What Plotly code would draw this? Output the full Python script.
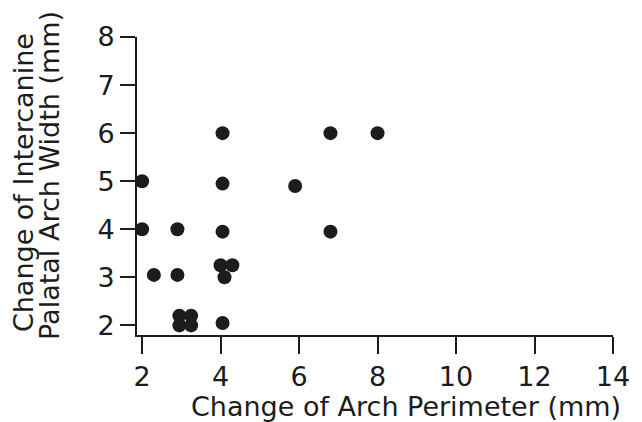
import plotly.graph_objects as go

# Data
arch_perimeter = [2.0, 2.0, 2.3, 2.9, 2.9, 2.95, 3.25, 2.95, 3.25, 4.05,
                  4.05, 4.05, 4.0, 4.3, 4.1, 4.05, 5.9, 6.8, 6.8, 8.0]
intercanine = [5.0, 4.0, 3.05, 4.0, 3.05, 2.2, 2.2, 2.0, 2.0, 2.05,
               6.0, 4.95, 3.25, 3.25, 3.0, 3.95, 4.9, 6.0, 3.95, 6.0]
x_ticks = [2, 4, 6, 8, 10, 12, 14]
y_ticks = [2, 3, 4, 5, 6, 7, 8]

FONT = "DejaVu Sans"
INK = "#1c1c1c"

fig = go.Figure(go.Scatter(
    x=arch_perimeter, y=intercanine, mode="markers",
    marker=dict(size=14, color=INK, line=dict(width=0)),
    hoverinfo="x+y",
))

fig.update_layout(
    width=642, height=422,
    margin=dict(l=137, r=29, t=37, b=87),
    paper_bgcolor="white", plot_bgcolor="white",
    showlegend=False,
    font=dict(family=FONT, color=INK),
    xaxis=dict(range=[1.87, 14], tickvals=x_ticks, ticktext=[str(v) for v in x_ticks],
               showgrid=False, zeroline=False, showline=True, linecolor=INK, linewidth=2,
               ticks="outside", ticklen=17, tickwidth=2, tickcolor=INK,
               tickfont=dict(size=27, family=FONT, color=INK)),
    yaxis=dict(range=[1.8, 8], tickvals=y_ticks, ticktext=[str(v) for v in y_ticks],
               showgrid=False, zeroline=False, showline=True, linecolor=INK, linewidth=2,
               ticks="outside", ticklen=15, tickwidth=2, tickcolor=INK,
               tickfont=dict(size=27, family=FONT, color=INK)),
    annotations=[
        dict(text="Change of Arch Perimeter (mm)", xref="paper", yref="paper",
             x=0.565, y=-0.2416, xanchor="center", yanchor="middle", showarrow=False,
             font=dict(size=27, family=FONT, color=INK)),
        dict(text="Change of Intercanine", xref="paper", yref="paper",
             x=-0.2393, y=0.510, xanchor="center", yanchor="middle", showarrow=False,
             textangle=-90, font=dict(size=27, family=FONT, color=INK)),
        dict(text="Palatal Arch Width (mm)", xref="paper", yref="paper",
             x=-0.1828, y=0.537, xanchor="center", yanchor="middle", showarrow=False,
             textangle=-90, font=dict(size=27, family=FONT, color=INK)),
    ],
)

fig.write_html("out.html", config={"displayModeBar": False},
               post_script="document.body.style.margin='0';")
